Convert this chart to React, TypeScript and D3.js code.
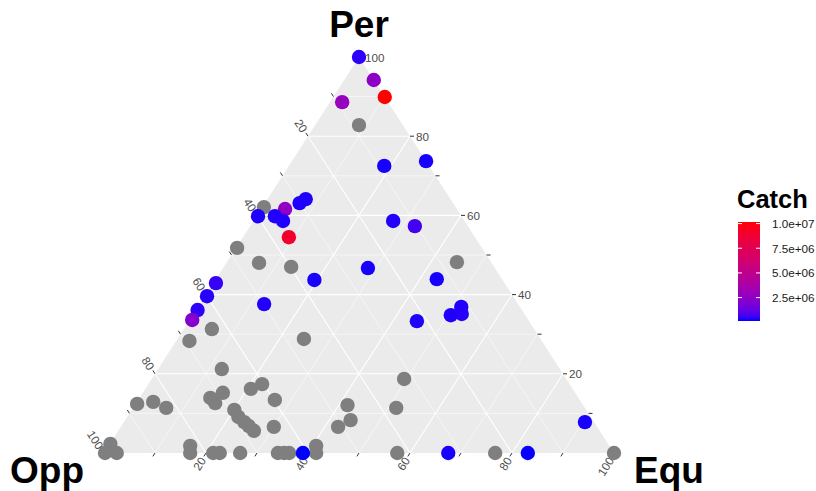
import React from "react";
import * as d3 from "d3";

// ---- data (Per, Opp, Equ in %, Catch; null = NA) ----
const perVals: number[] = [
  82.8, 62.1, 51.8, 48.0, 47.0, 48.2, 31.3, 28.3, 28.8, 21.2, 18.7, 12.4, 12.9, 11.4, 13.9, 12.6, 15.2, 16.2, 17.4, 13.4,
  10.9, 9.1, 7.8, 6.8, 5.6, 6.6, 6.6, 8.3, 12.1, 11.4, 2.3, 0, 0, 1.8, 0, 0, 0, 0, 0, 0, 0, 1.8, 0, 0, 0, 0,
  100, 94.2, 88.6, 72.5, 73.7, 64.1, 63.1, 61.6, 59.8, 59.8, 58.6, 54.5, 58.6, 57.3, 46.7, 43.7, 43.9, 36.9, 35.1, 34.8,
  33.3, 37.6, 42.9, 39.6, 36.1, 33.6, 7.8, 0, 0, 0, 89.9,
];
const oppVals: number[] = [
  8.6, 37.6, 48.0, 45.6, 39.8, 6.7, 63.2, 69.1, 46.4, 66.3, 31.8, 87.3, 83.9, 82.1, 72.2, 71.9, 69.1, 63.1, 60.3, 59.8,
  69.0, 69.1, 68.6, 68.2, 67.8, 63.4, 50.8, 47.5, 46.2, 37.0, 97.6, 99.8, 97.5, 82.2, 83.1, 78.6, 77.3, 73.3, 65.9, 64.7, 63.7, 57.5, 58.4, 42.5, 23.3, 0,
  0, 0, 9.0, 8.8, 0, 28.4, 30.1, 33.7, 39.9, 36.6, 35.6, 36.5, 14.0, 10.4, 24.9, 36.9, 12.8, 11.5, 12.3, 14.6,
  22.0, 49.8, 56.6, 60.0, 63.6, 65.9, 1.8, 61.0, 32.5, 16.9, 0,
];
const equVals: number[] = [
  8.6, 0.3, 0.2, 6.4, 13.2, 45.1, 5.5, 2.6, 24.8, 12.5, 49.5, 0.3, 3.2, 6.5, 13.9, 15.5, 15.7, 20.7, 22.3, 26.8,
  20.1, 21.8, 23.6, 25.0, 26.6, 30.0, 42.6, 44.2, 41.7, 51.6, 0.1, 0.2, 2.5, 16.0, 16.9, 21.4, 22.7, 26.7, 34.1, 35.3, 36.3, 40.7, 41.6, 57.5, 76.7, 100,
  0, 5.8, 2.4, 18.7, 26.3, 7.5, 6.8, 4.7, 0.3, 3.6, 5.8, 9.0, 27.4, 32.3, 28.4, 19.4, 43.3, 51.6, 52.6, 50.6,
  44.7, 12.6, 0.5, 0.4, 0.3, 0.5, 90.4, 39.0, 67.5, 83.1, 10.1,
];
const catchVals: (number | null)[] = [
  null, null, null, null, null, null, null, null, null, null, null, null, null, null, null, null, null, null, null, null,
  null, null, null, null, null, null, null, null, null, null, null, null, null, null, null, null, null, null, null, null, null, null, null, null, null, null,
  350000, 2500000, 2900000, 200000, 200000, 250000, 250000, 2600000, 250000, 250000, 250000, 9000000, 250000, 600000, 200000, 200000, 200000, 250000, 300000, 250000,
  250000, 250000, 450000, 300000, 350000, 2200000, 200000, 130000, 200000, 150000, 10160000,
];

const tickValues: number[] = [10, 20, 30, 40, 50, 60, 70, 80, 90, 100];
const labelValues: number[] = [20, 40, 60, 80, 100];
const gridValues: number[] = [10, 20, 30, 40, 50, 60, 70, 80, 90];
const legendTicks: number[] = [2500000, 5000000, 7500000, 10000000];
const legendLabels: string[] = ["2.5e+06", "5.0e+06", "7.5e+06", "1.0e+07"];

// ---- geometry ----
const W = 816, H = 491;
const xBase = d3.scaleLinear().domain([0, 100]).range([104, 614]);
const yPer = d3.scaleLinear().domain([0, 100]).range([453, 57]);
const proj = (per: number, equ: number): [number, number] => [xBase(equ + per / 2), yPer(per)];

const top = proj(100, 0), bl = proj(0, 0), br = proj(0, 100);
const norm = (dx: number, dy: number): [number, number] => {
  const l = Math.hypot(dx, dy);
  return [dx / l, dy / l];
};
const oppDir = norm(top[0] - br[0], top[1] - br[1]); // up-left
const equDir = norm(bl[0] - top[0], bl[1] - top[1]); // down-left
const oppAngle = (Math.atan2(-oppDir[1], -oppDir[0]) * 180) / Math.PI;
const equAngle = (Math.atan2(-equDir[1], -equDir[0]) * 180) / Math.PI;

const catchDomain = [130000, 10160000];
const colorScale = d3
  .scaleLinear<string>()
  .domain(catchDomain)
  .range(["#0000FF", "#FF0000"])
  .interpolate(d3.interpolateLab);

const legX = 738, legW = 22, legTop = 222, legBot = 321;
const legScale = d3.scaleLinear().domain(catchDomain).range([legBot, legTop]);

export default function App() {
  const fontFam = "'Liberation Sans', Arial, Helvetica, sans-serif";
  const TL = 4, GAP = 2;
  const lines: JSX.Element[] = [];
  gridValues.forEach((v) => {
    const major = v % 20 === 0;
    const sw = major ? 1.1 : 0.55;
    const segs: [[number, number], [number, number]][] = [
      [proj(v, 0), proj(v, 100 - v)], // Per
      [proj(100 - v, 0), proj(0, 100 - v)], // Opp
      [proj(0, v), proj(100 - v, v)], // Equ
    ];
    segs.forEach((s, i) => {
      lines.push(
        <line key={`g${v}-${i}`} x1={s[0][0]} y1={s[0][1]} x2={s[1][0]} y2={s[1][1]} stroke="#FFFFFF" strokeWidth={sw} />
      );
    });
  });

  const ticks: JSX.Element[] = [];
  const labels: JSX.Element[] = [];
  tickValues.forEach((v) => {
    const pr = proj(v, 100 - v);
    ticks.push(<line key={`tp${v}`} x1={pr[0]} y1={pr[1]} x2={pr[0] + TL} y2={pr[1]} stroke="#333" strokeWidth={1} />);
    const po = proj(100 - v, 0);
    ticks.push(
      <line key={`to${v}`} x1={po[0]} y1={po[1]} x2={po[0] + oppDir[0] * TL} y2={po[1] + oppDir[1] * TL} stroke="#333" strokeWidth={1} />
    );
    const pe = proj(0, v);
    ticks.push(
      <line key={`te${v}`} x1={pe[0]} y1={pe[1]} x2={pe[0] + equDir[0] * TL} y2={pe[1] + equDir[1] * TL} stroke="#333" strokeWidth={1} />
    );
  });
  labelValues.forEach((v) => {
    const pr = proj(v, 100 - v);
    labels.push(
      <text key={`lp${v}`} x={pr[0] + TL + GAP} y={pr[1]} dominantBaseline="central" fontSize={11.7} fill="#4D4D4D" fontFamily={fontFam}>
        {v}
      </text>
    );
    const po = proj(100 - v, 0);
    const ox = po[0] + oppDir[0] * (TL + GAP), oy = po[1] + oppDir[1] * (TL + GAP);
    labels.push(
      <text key={`lo${v}`} x={ox} y={oy} dominantBaseline="central" textAnchor="end" fontSize={11.7} fill="#4D4D4D" fontFamily={fontFam}
        transform={`rotate(${oppAngle},${ox},${oy})`}>
        {v}
      </text>
    );
    const pe = proj(0, v);
    const ex = pe[0] + equDir[0] * (TL + GAP), ey = pe[1] + equDir[1] * (TL + GAP);
    labels.push(
      <text key={`le${v}`} x={ex} y={ey} dominantBaseline="central" textAnchor="end" fontSize={11.7} fill="#4D4D4D" fontFamily={fontFam}
        transform={`rotate(${equAngle},${ex},${ey})`}>
        {v}
      </text>
    );
  });

  const idx = d3.range(perVals.length);
  const pts = idx.map((i) => {
    const [x, y] = proj(perVals[i], equVals[i]);
    const c = catchVals[i];
    return (
      <circle key={`p${i}`} cx={x} cy={y} r={7.2} fill={c == null ? "#7F7F7F" : colorScale(c)} />
    );
  });

  const stops = d3.range(0, 1.0001, 0.05).map((t) => (
    <stop key={`s${t}`} offset={`${t * 100}%`} stopColor={colorScale(catchDomain[0] + t * (catchDomain[1] - catchDomain[0]))} />
  ));

  return (
    <svg width={W} height={H} style={{ position: "absolute", left: 0, top: 0, background: "#FFFFFF" }}>
      <defs>
        <linearGradient id="catchGrad" x1="0" y1="1" x2="0" y2="0">
          {stops}
        </linearGradient>
      </defs>
      <polygon points={[top, bl, br].map((p) => p.join(",")).join(" ")} fill="#EBEBEB" />
      {lines}
      {ticks}
      {labels}
      {pts}
      <text x={top[0]} y={37} textAnchor="middle" fontSize={37} fontWeight="bold" fontFamily={fontFam} fill="#000">Per</text>
      <text x={10} y={483} fontSize={37} fontWeight="bold" fontFamily={fontFam} fill="#000">Opp</text>
      <text x={634} y={483} fontSize={37} fontWeight="bold" fontFamily={fontFam} fill="#000">Equ</text>
      <text x={737} y={208} fontSize={25.5} fontWeight="bold" fontFamily={fontFam} fill="#000">Catch</text>
      <rect x={legX} y={legTop} width={legW} height={legBot - legTop} fill="url(#catchGrad)" />
      {legendTicks.map((v, i) => (
        <g key={`lt${v}`}>
          <line x1={legX} x2={legX + 4} y1={legScale(v)} y2={legScale(v)} stroke="#FFFFFF" strokeWidth={1} />
          <line x1={legX + legW - 4} x2={legX + legW} y1={legScale(v)} y2={legScale(v)} stroke="#FFFFFF" strokeWidth={1} />
          <text x={772} y={legScale(v)} dominantBaseline="central" fontSize={11.7} fill="#1A1A1A" fontFamily={fontFam}>
            {legendLabels[i]}
          </text>
        </g>
      ))}
    </svg>
  );
}
